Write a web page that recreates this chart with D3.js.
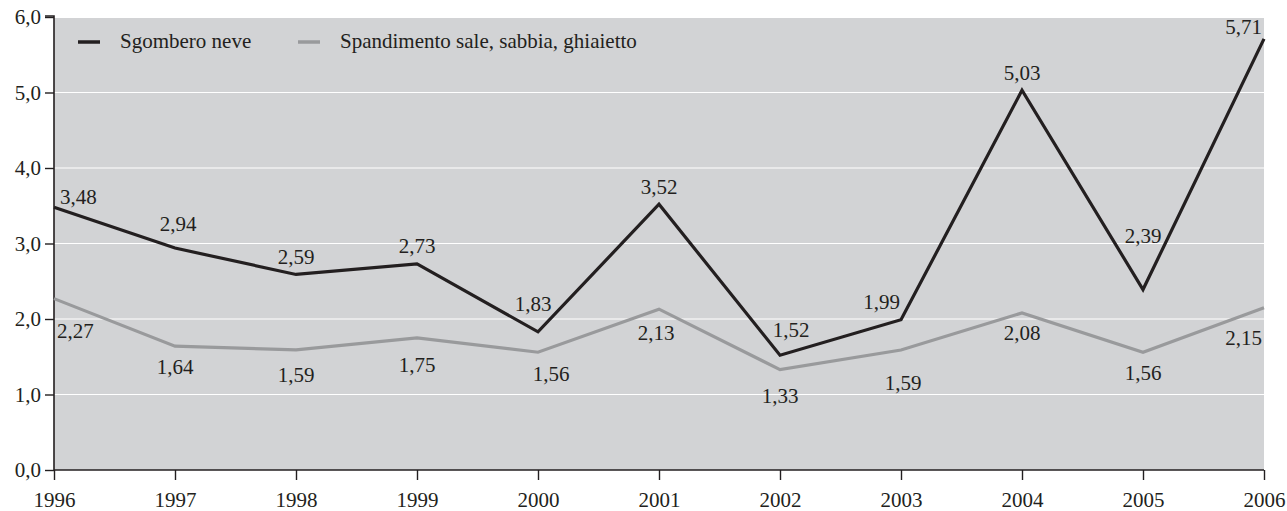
<!DOCTYPE html>
<html lang="it">
<head>
<meta charset="UTF-8">
<title>Sgombero neve</title>
<script src="https://d3js.org/d3.v7.min.js"></script>
<style>
    body { margin: 0; background: #fff; }
    svg { display: block; font-family: "Liberation Serif", "Times New Roman", Times, "DejaVu Serif", serif; }
    .lbl { font-size: 21px; fill: #231f20; }
</style>
</head>
<body>
<svg id="chart" width="1287" height="511"></svg>
<script>
const years = [1996, 1997, 1998, 1999, 2000, 2001, 2002, 2003, 2004, 2005, 2006];
const sgombero = [3.48, 2.94, 2.59, 2.73, 1.83, 3.52, 1.52, 1.99, 5.03, 2.39, 5.71];
const spandimento = [2.27, 1.64, 1.59, 1.75, 1.56, 2.13, 1.33, 1.59, 2.08, 1.56, 2.15];
const seriesNames = ["Sgombero neve", "Spandimento sale, sabbia, ghiaietto"];
const yTicks = [0, 1, 2, 3, 4, 5, 6];

const it = d3.formatLocale({ decimal: ",", thousands: ".", grouping: [3], currency: ["", "€"] });
const fmt2 = it.format(".2f");
const fmt1 = it.format(".1f");

const svg = d3.select("#chart");
const plotLeft = 54, plotRight = 1264, plotTop = 17, plotBottom = 470;

const x = d3.scaleLinear().domain([1996, 2006]).range([plotLeft, plotRight]);
const y = d3.scaleLinear().domain([0, 6]).range([plotBottom, plotTop]);

// plot background + grid
svg.append("rect")
    .attr("x", plotLeft).attr("y", plotTop + 1)
    .attr("width", plotRight - plotLeft).attr("height", plotBottom - plotTop - 1)
    .attr("fill", "#d2d3d5");

svg.append("g").selectAll("line")
    .data(yTicks.filter(d => d > 0 && d < 6))
    .join("line")
    .attr("x1", plotLeft).attr("x2", plotRight)
    .attr("y1", d => y(d)).attr("y2", d => y(d))
    .attr("stroke", "#fff").attr("stroke-width", 1.2);

// axes
const yAxis = svg.append("g")
    .attr("transform", `translate(${plotLeft},0)`)
    .call(d3.axisLeft(y).tickValues(yTicks).tickFormat(fmt1).tickSize(9).tickPadding(4));
const xAxis = svg.append("g")
    .attr("transform", `translate(0,${plotBottom})`)
    .call(d3.axisBottom(x).tickValues(years).tickFormat(d3.format("d")).tickSize(10).tickPadding(12));

[yAxis, xAxis].forEach(a => {
    a.attr("font-family", null).attr("font-size", null);
    a.select(".domain").attr("stroke", "#231f20").attr("stroke-width", 1.6);
    a.selectAll(".tick line").attr("stroke", "#231f20").attr("stroke-width", 1.4);
    a.selectAll(".tick text").attr("class", "lbl");
});
yAxis.select(".domain").attr("d", `M-9,${plotTop - 1}H0V${plotBottom}`);
xAxis.select(".domain").attr("d", `M${plotLeft},0H${plotRight}`);

const series = [
    { name: seriesNames[0], values: sgombero, color: "#231f20" },
    { name: seriesNames[1], values: spandimento, color: "#999a9c" }
];

const line = d3.line().x((d, i) => x(years[i])).y(d => y(d));

// spandimento first so the black line sits on top
series.slice().reverse().forEach(s => {
    svg.append("path")
        .datum(s.values)
        .attr("d", line)
        .attr("fill", "none")
        .attr("stroke", s.color)
        .attr("stroke-width", 3.2)
        .attr("stroke-linejoin", "miter");
});

// value labels: black above, grey below, with a few hand nudges
const nudges = {
    "0-0": { dx: 6, dy: -11, anchor: "start" },
    "0-1": { dx: 3, dy: -24 },
    "0-4": { dx: -5, dy: -28 },
    "0-6": { dx: 11, dy: -26 },
    "0-7": { dx: -1, dy: -18, anchor: "end" },
    "0-9": { dx: 0, dy: -54 },
    "0-10": { dx: -2, dy: -12, anchor: "end" },
    "1-0": { dx: 3, dy: 32, anchor: "start" },
    "1-2": { dx: 0, dy: 25 },
    "1-3": { dx: 0, dy: 27 },
    "1-4": { dx: 13, dy: 21 },
    "1-5": { dx: -3, dy: 23 },
    "1-6": { dx: 0, dy: 26 },
    "1-7": { dx: 2, dy: 33 },
    "1-10": { dx: -2, dy: 30, anchor: "end" }
};

series.forEach((s, si) => {
    svg.append("g").selectAll("text")
        .data(s.values)
        .join("text")
        .attr("class", "lbl")
        .each(function (d, i) {
            const n = nudges[si + "-" + i] || { dx: 0, dy: si === 0 ? -18 : 20 };
            d3.select(this)
                .attr("x", x(years[i]) + n.dx)
                .attr("y", y(d) + n.dy)
                .attr("dy", "0.35em")
                .attr("text-anchor", n.anchor || "middle");
        })
        .text(d => fmt2(d));
});

// legend
const legend = svg.append("g");
const legendX = [78, 298];
series.forEach((s, i) => {
    legend.append("line")
        .attr("x1", legendX[i]).attr("x2", legendX[i] + 22)
        .attr("y1", 42).attr("y2", 42)
        .attr("stroke", s.color).attr("stroke-width", 3.5);
    legend.append("text")
        .attr("class", "lbl")
        .attr("x", legendX[i] + 42).attr("y", 46)
        .attr("dy", "0.1em")
        .text(s.name);
});
</script>
</body>
</html>
